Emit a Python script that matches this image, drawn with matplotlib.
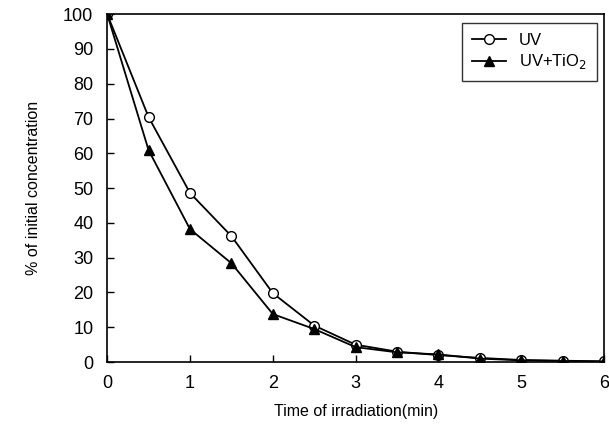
import numpy as np
import matplotlib
matplotlib.use('Agg')
import matplotlib.pyplot as plt

plt.rcParams['font.family'] = ['Liberation Sans', 'DejaVu Sans']

# Data
time = [0, 0.5, 1, 1.5, 2, 2.5, 3, 3.5, 4, 4.5, 5, 5.5, 6]
uv = [100, 70.4, 48.6, 36.2, 19.8, 10.5, 5, 3, 2, 1.2, 0.6, 0.4, 0.2]
uv_tio2 = [100, 60.9, 38.2, 28.4, 13.8, 9.5, 4.3, 2.8, 2.2, 1.0, 0.5, 0.3, 0.2]

fig = plt.figure(figsize=(6.09, 4.28), dpi=100)
ax = fig.add_axes([0.176, 0.154, 0.816, 0.813])

ax.plot(time, uv, color='black', linewidth=1.3, marker='o', markersize=7,
        markerfacecolor='white', markeredgecolor='black', label='UV')
ax.plot(time, uv_tio2, color='black', linewidth=1.3, marker='^', markersize=7,
        markerfacecolor='black', label='UV+TiO$_2$')

ax.set_xlim(0, 6)
ax.set_ylim(0, 100)
ax.set_xticks(range(0, 7))
ax.set_yticks(range(0, 101, 10))
ax.tick_params(direction='in', length=5, width=1, labelsize=13)
ax.tick_params(axis='x', pad=9)
ax.tick_params(axis='y', pad=10)
for s in ax.spines.values():
    s.set_linewidth(1.2)

ax.set_xlabel('Time of irradiation(min)', fontsize=11.5, labelpad=9)
ax.set_ylabel('% of initial concentration', fontsize=11.5, labelpad=16)

leg = ax.legend(loc='upper right', bbox_to_anchor=(0.986, 0.974), fontsize=12,
                frameon=True, fancybox=False, edgecolor='black',
                handlelength=2.0, borderaxespad=0, borderpad=0.6,
                labelspacing=0.25)
leg.get_frame().set_linewidth(1.0)

fig.savefig('out.png', dpi=100)
